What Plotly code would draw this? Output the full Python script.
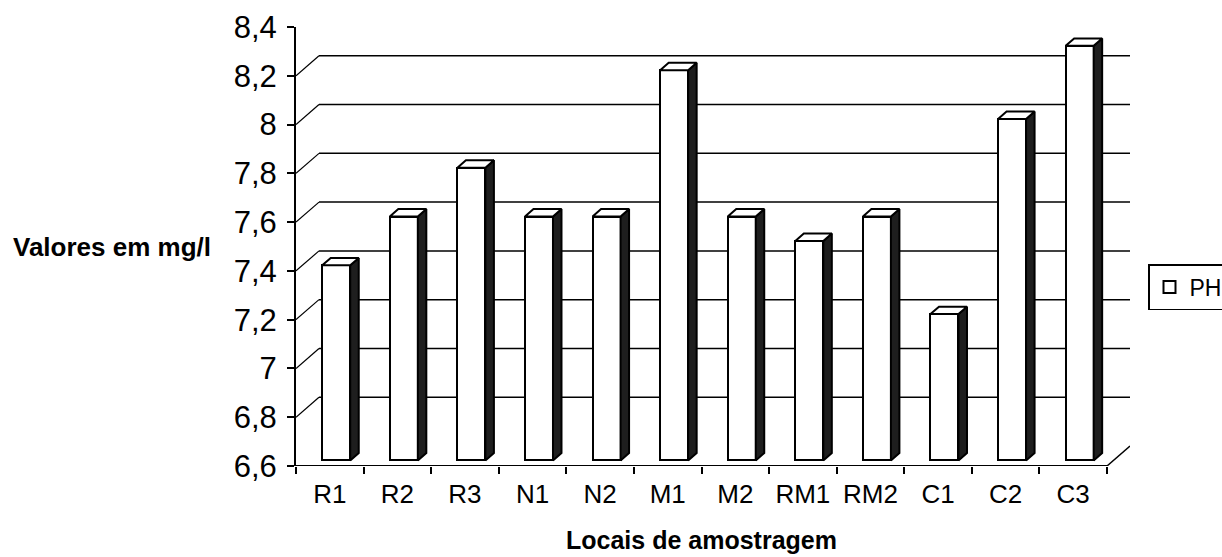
import plotly.graph_objects as go

# ---- data ----
categories = ["R1", "R2", "R3", "N1", "N2", "M1", "M2", "RM1", "RM2", "C1", "C2", "C3"]
ph_values = [7.4, 7.6, 7.8, 7.6, 7.6, 8.2, 7.6, 7.5, 7.6, 7.2, 8.0, 8.3]
y_ticks = [6.6, 6.8, 7.0, 7.2, 7.4, 7.6, 7.8, 8.0, 8.2, 8.4]
series_name = "PH"

# ---- layout geometry (3D-look parameters) ----
W, H = 1222, 557
L, R, T, B = 296, 92, 27, 91
ymin, ymax = 6.6, 8.4
plot_w = W - L - R
plot_h = H - T - B
DXu = 0.3403          # depth offset in category units
px_per_cat = plot_w / (12 + DXu)
DYu = 20 / (plot_h / (ymax - ymin))   # depth offset in value units
f0, f1 = 0.28, 0.65   # bar front / back depth fractions
bw = 28 / px_per_cat  # bar width

n = len(categories)
xs = list(range(n))

fig = go.Figure()

# front faces
fig.add_trace(go.Bar(
    x=[i + f0 * DXu for i in xs],
    y=[v - ymin for v in ph_values],
    base=[ymin + f0 * DYu] * n,
    width=bw,
    marker=dict(color="white", line=dict(color="black", width=2)),
    name=series_name,
    showlegend=True,
))

# side and top faces
sx, sy = [], []
tx, ty = [], []
for i, v in zip(xs, ph_values):
    xr0 = i + bw / 2 + f0 * DXu
    xr1 = i + bw / 2 + f1 * DXu
    xl0 = i - bw / 2 + f0 * DXu
    xl1 = i - bw / 2 + f1 * DXu
    sx += [xr0, xr0, xr1, xr1, xr0, None]
    sy += [ymin + f0 * DYu, v + f0 * DYu, v + f1 * DYu, ymin + f1 * DYu, ymin + f0 * DYu, None]
    tx += [xl0, xr0, xr1, xl1, xl0, None]
    ty += [v + f0 * DYu, v + f0 * DYu, v + f1 * DYu, v + f1 * DYu, v + f0 * DYu, None]

fig.add_trace(go.Scatter(x=sx, y=sy, mode="lines", fill="toself",
                         fillcolor="#1e1e1e", line=dict(color="black", width=2),
                         showlegend=False, hoverinfo="skip"))
fig.add_trace(go.Scatter(x=tx, y=ty, mode="lines", fill="toself",
                         fillcolor="white", line=dict(color="black", width=2),
                         showlegend=False, hoverinfo="skip"))

# back wall gridlines and diagonals
shapes = []
for v in y_ticks[1:-1]:
    shapes.append(dict(type="line", xref="x", yref="y", layer="below",
                       x0=-0.5 + DXu, x1=n - 0.5 + DXu, y0=v + DYu, y1=v + DYu,
                       line=dict(color="black", width=1.5)))
    shapes.append(dict(type="line", xref="x", yref="y", layer="below",
                       x0=-0.5, x1=-0.5 + DXu, y0=v, y1=v + DYu,
                       line=dict(color="black", width=1.2)))
# floor front edge and right diagonal
shapes.append(dict(type="line", xref="x", yref="y", layer="above",
                   x0=-0.5, x1=n - 0.5, y0=ymin, y1=ymin,
                   line=dict(color="black", width=2)))
shapes.append(dict(type="line", xref="x", yref="y", layer="above",
                   x0=n - 0.5, x1=n - 0.5 + DXu, y0=ymin, y1=ymin + DYu,
                   line=dict(color="black", width=1.5)))

def px_to_paper_x(px):
    return (px - L) / plot_w

def px_to_paper_y(py):
    return (H - B - py) / plot_h

annotations = [
    dict(text="<b>Valores em mg/l</b>", xref="paper", yref="paper",
         x=px_to_paper_x(112), y=px_to_paper_y(247), showarrow=False,
         xanchor="center", yanchor="middle",
         font=dict(family="Liberation Sans, Arial", size=26, color="black")),
    dict(text="<b>Locais de amostragem</b>", xref="paper", yref="paper",
         x=px_to_paper_x(701), y=px_to_paper_y(540), showarrow=False,
         xanchor="center", yanchor="middle",
         font=dict(family="Liberation Sans, Arial", size=25, color="black")),
]

fig.update_layout(
    width=W, height=H,
    margin=dict(l=L, r=R, t=T, b=B, pad=0, autoexpand=False),
    paper_bgcolor="white", plot_bgcolor="white",
    separators=",.",
    shapes=shapes,
    annotations=annotations,
    bargap=0,
    font=dict(family="Liberation Sans, Arial", color="black"),
    legend=dict(x=px_to_paper_x(1148), y=px_to_paper_y(287),
                xanchor="left", yanchor="middle",
                bordercolor="black", borderwidth=1.5, bgcolor="white",
                font=dict(size=23, color="black"),
                itemwidth=30, tracegroupgap=0),
    xaxis=dict(
        range=[-0.5, n - 0.5 + DXu],
        tickmode="array", tickvals=xs, ticktext=categories,
        ticks="", showgrid=False, zeroline=False, showline=False,
        tickfont=dict(size=26, color="black"),
        ticklabelstandoff=10,
        automargin=False,
        minor=dict(tickmode="array", tickvals=[i - 0.5 for i in range(n + 1)],
                   ticks="outside", ticklen=7, tickwidth=1.5, tickcolor="black",
                   showgrid=False),
        fixedrange=True,
    ),
    yaxis=dict(
        range=[ymin, ymax],
        tickmode="array", tickvals=y_ticks,
        ticks="outside", ticklen=7, tickwidth=1.5, tickcolor="black",
        showline=True, linecolor="black", linewidth=2,
        showgrid=False, zeroline=False,
        tickfont=dict(size=31, color="black"),
        ticklabelstandoff=4,
        automargin=False,
        fixedrange=True,
    ),
)

fig.write_html(
    "out.html",
    config={"displayModeBar": False},
    post_script="document.body.style.margin='0';document.body.style.overflow='hidden';",
)
